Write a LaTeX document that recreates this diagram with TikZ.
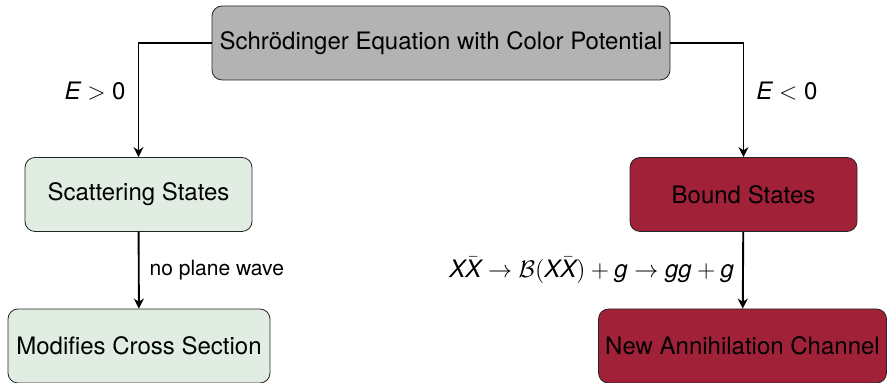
\documentclass[tikz,border=0pt]{standalone}
\usepackage{fontspec}
\setmainfont{TeX Gyre Heros}
\usepackage{tikz}
\usetikzlibrary{arrows.meta,positioning}
\definecolor{eqgray}{HTML}{B3B3B3}
\definecolor{softgreen}{HTML}{E1EDE3}
\definecolor{boundred}{HTML}{A12139}
\newcommand{\sv}[1]{\mbox{\itshape #1}}

\begin{document}
\begin{tikzpicture}[x=0.5pt,y=-0.5pt, every node/.style={font=\fontsize{12}{14}\selectfont}, box/.style={draw=black!85,rounded corners=5pt,align=center,minimum height=37pt,inner sep=0pt}, lab/.style={font=\fontsize{12}{14}\selectfont,inner sep=0pt}, arrow/.style={-{Stealth[length=5pt,width=5pt]},line width=0.95pt}]
\useasboundingbox (0,0) rectangle (887,383);
\node[box,fill=eqgray,minimum width=229pt] (eq) at (441,43) {Schrödinger Equation with Color Potential};
\node[box,fill=softgreen,minimum width=113.5pt] (scat) at (138.5,194.5) {Scattering States};
\node[box,fill=boundred,minimum width=113.5pt] (bound) at (743.5,194.5) {Bound States};
\node[box,fill=softgreen,minimum width=131pt] (cross) at (139,346) {Modifies Cross Section};
\node[box,fill=boundred,minimum width=144pt] (annih) at (742.5,346) {New Annihilation Channel};
\draw[arrow] (eq.west) -| (scat.north) node[lab,pos=0.71,left=6pt] {$\sv{E} > \mbox{0}$};
\draw[arrow] (eq.east) -| (bound.north) node[lab,pos=0.71,right=6pt] {$\sv{E} < \mbox{0}$};
\draw[arrow] (scat) -- (cross) node[lab,midway,right=5pt,font=\fontsize{10.5}{12}\selectfont] {no plane wave};
\draw[arrow] (bound) -- (annih) node[lab,midway,left=4pt] {$\sv{X}\bar{\sv{X}} \to \mathcal{B}(\sv{X}\bar{\sv{X}}) + \sv{g} \to \sv{gg} + \sv{g}$};
\end{tikzpicture}
\end{document}
